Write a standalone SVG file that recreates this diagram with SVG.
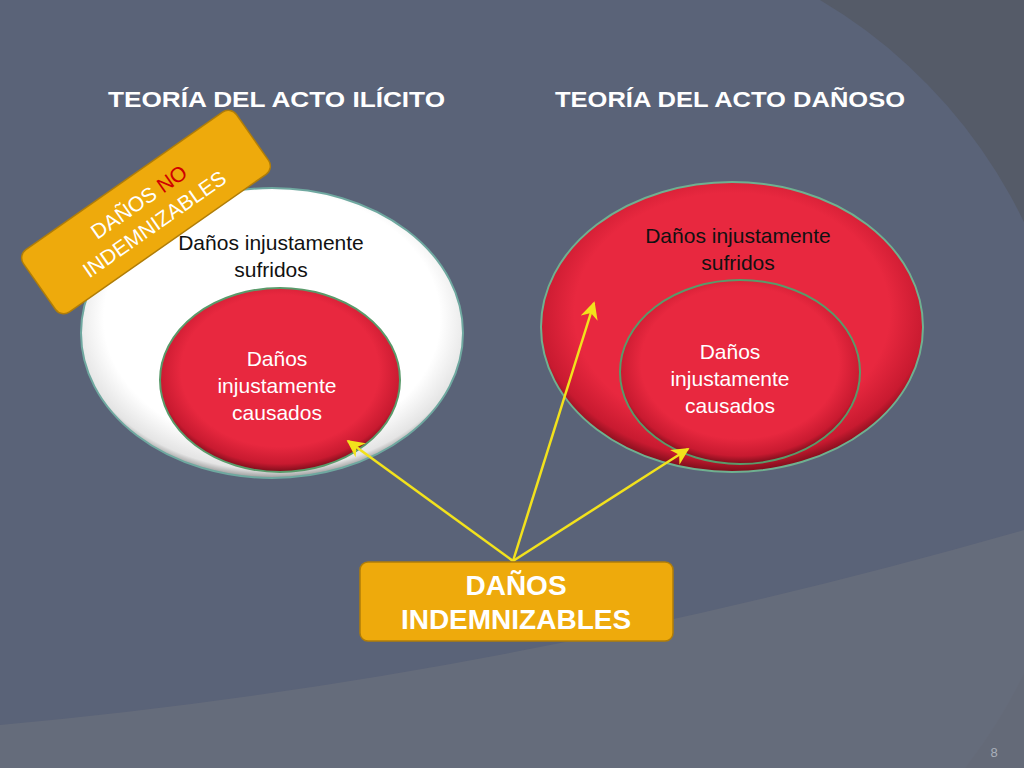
<svg xmlns="http://www.w3.org/2000/svg" width="1024" height="768" viewBox="0 0 1024 768">
<defs>
<radialGradient id="red" cx="50%" cy="45%" r="55%"><stop offset="0.75" stop-color="#e8283f"/><stop offset="0.92" stop-color="#c81a30"/><stop offset="1" stop-color="#7a0d1a"/></radialGradient>
<radialGradient id="white" cx="50%" cy="45%" r="55%"><stop offset="0.8" stop-color="#ffffff"/><stop offset="0.95" stop-color="#e4e4e4"/><stop offset="1" stop-color="#9a9a9a"/></radialGradient>
<marker id="ah" viewBox="0 0 10 10" refX="9" refY="5" markerWidth="7" markerHeight="7" orient="auto"><path d="M0,0 L10,5 L0,10 L3,5 Z" fill="#f2e21c"/></marker>
<style>
.t{font-family:"Liberation Sans",Arial,sans-serif}
.h{fill:#fff;font-size:22px;font-weight:bold}
.b{fill:#111;font-size:21px}
.w{fill:#fff;font-size:21px}
.c{stroke:#f2e21c;stroke-width:2.5;fill:none;marker-end:url(#ah)}
</style>
</defs>
<rect width="1024" height="768" fill="#5a6378"/>
<path d="M820,0 A520,520 0 0 1 965,768 L1024,768 L1024,0 Z" fill="#555b68"/>
<path d="M0,725 Q500,680 1024,530 L1024,768 L0,768 Z" fill="#676d7b" opacity="0.85"/>
<text class="t h" x="108" y="107" textLength="337" lengthAdjust="spacingAndGlyphs">TEORÍA  DEL ACTO ILÍCITO</text>
<text class="t h" x="555" y="107" textLength="350" lengthAdjust="spacingAndGlyphs">TEORÍA DEL ACTO DAÑOSO</text>
<g id="left-outer"><ellipse cx="272" cy="333" rx="191" ry="145" fill="url(#white)" stroke="#6fa8a0" stroke-width="2"/>
<text class="t b" x="271" y="250" text-anchor="middle">Daños injustamente</text><text class="t b" x="271" y="277" text-anchor="middle">sufridos</text></g>
<g id="left-inner"><ellipse cx="280" cy="380" rx="120" ry="92" fill="url(#red)" stroke="#5a9a6a" stroke-width="2"/>
<text class="t w" x="277" y="366" text-anchor="middle">Daños</text><text class="t w" x="277" y="393" text-anchor="middle">injustamente</text><text class="t w" x="277" y="420" text-anchor="middle">causados</text></g>
<g id="no-indemn" transform="rotate(-35 146 212)"><rect x="16" y="174" width="260" height="76" rx="10" fill="#eeaa0c" stroke="#b07d08" stroke-width="1.5"/>
<text class="t w" x="146" y="207" text-anchor="middle">DAÑOS <tspan fill="#d00000">NO</tspan></text><text class="t w" x="146" y="234" text-anchor="middle">INDEMNIZABLES</text></g>
<g id="right-outer"><ellipse cx="732" cy="327" rx="191" ry="145" fill="url(#red)" stroke="#6fb090" stroke-width="2"/>
<text class="t b" x="738" y="243" text-anchor="middle">Daños injustamente</text><text class="t b" x="738" y="270" text-anchor="middle">sufridos</text></g>
<g id="right-inner"><ellipse cx="740" cy="372" rx="120" ry="92" fill="url(#red)" stroke="#5a9a6a" stroke-width="2"/>
<text class="t w" x="730" y="359" text-anchor="middle">Daños</text><text class="t w" x="730" y="386" text-anchor="middle">injustamente</text><text class="t w" x="730" y="413" text-anchor="middle">causados</text></g>
<g id="connectors">
<line class="c" x1="513" y1="561" x2="348" y2="441"/>
<line class="c" x1="513" y1="561" x2="594" y2="303"/>
<line class="c" x1="513" y1="561" x2="688" y2="449"/>
</g>
<g id="indemn"><rect x="360" y="562" width="313" height="79" rx="8" fill="#eeaa0c" stroke="#b07d08" stroke-width="1.5"/>
<text class="t" x="516" y="595" text-anchor="middle" fill="#fff" font-size="28" font-weight="bold">DAÑOS</text><text class="t" x="516" y="629" text-anchor="middle" fill="#fff" font-size="28" font-weight="bold">INDEMNIZABLES</text></g>
<text class="t" x="994" y="757" text-anchor="middle" fill="#aab0bb" font-size="13">8</text>
</svg>
